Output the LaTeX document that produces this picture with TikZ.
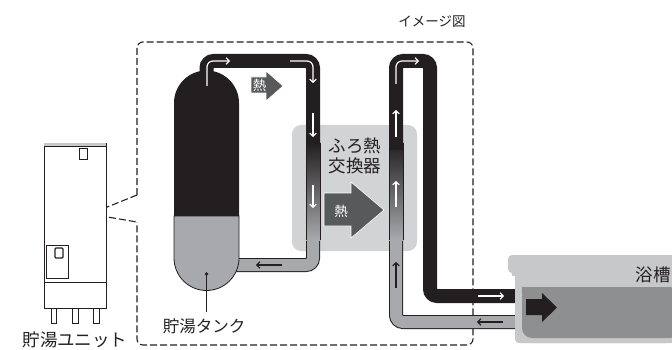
\documentclass[tikz,border=0pt]{standalone}
\usepackage{fontspec}
\newfontfamily\jp{Noto Sans CJK JP}
\usetikzlibrary{arrows.meta}
\definecolor{pipeblack}{HTML}{231F20}
\definecolor{pipegray}{HTML}{A7A9AC}
\definecolor{boxgray}{HTML}{D1D3D4}
\definecolor{heatgray}{HTML}{58595B}
\definecolor{tubgray}{HTML}{C7C8CA}
\definecolor{watergray}{HTML}{8E8F91}
\definecolor{txt}{HTML}{231F20}
\tikzset{
  blackpipe/.style={line width=14pt, color=pipeblack, rounded corners=7pt},
  graypipeout/.style={line width=14pt, color=pipeblack, rounded corners=7pt},
  graypipein/.style={line width=12pt, color=pipegray, rounded corners=7pt},
  warr/.style={white, line width=1.2pt, -{Straight Barb[length=3pt,width=6.5pt]}},
  barr/.style={pipeblack, line width=1.2pt, -{Straight Barb[length=3pt,width=6.5pt]}},
  frameline/.style={pipeblack, line width=1.1pt, dash pattern=on 7pt off 3pt},
  thin/.style={pipeblack, line width=0.8pt},
  lbl/.style={font=\jp\fontsize{16.5}{16.5}\selectfont, text=txt, inner sep=0pt},
  heatlbl/.style={font=\jp\fontsize{13.5}{13.5}\selectfont, text=white, inner sep=0pt},
  heatarrow/.style={fill=heatgray, draw=white, line width=0.6pt}
}
\begin{document}
\begin{tikzpicture}[x=1pt,y=-1pt]
\useasboundingbox (0,0) rectangle (672,350);

% caption
\node[lbl, font=\jp\fontsize{13.5}{13.5}\selectfont] (cap) at (432,22) {イメージ図};

% dashed callout frame
\draw[frameline, rounded corners=6pt] (137,195) -- (137,42) -- (473,42) -- (473,345) -- (137,345) -- (137,222);
\draw[frameline] (137,195) -- (90,214) -- (137,222);

% storage unit
\draw[thin, fill=white] (44,143) rectangle (106,308);
\fill[tubgray] (44,143) rectangle (106,146);
\draw[thin] (44,146) -- (106,146);
\draw[thin] (79,148) rectangle (87,159);
\draw[thin] (46,245) rectangle (68,278);
\draw[pipeblack, line width=1.3pt, rounded corners=1pt] (55,248) rectangle (63,258);
\draw[thin] (44,282) -- (106,282);
\draw[thin, fill=white] (51,308) rectangle (56,323);
\draw[thin, fill=white] (72,308) rectangle (78,323);
\draw[thin, fill=white] (93,308) rectangle (99,323);
\node[lbl, font=\jp\fontsize{17.5}{17.5}\selectfont] (unit) at (75,340) {貯湯ユニット};

% heat exchanger housing
\fill[boxgray, rounded corners=9pt] (292,125) rectangle (417,251);
\node[lbl, font=\jp\fontsize{17.5}{17.5}\selectfont, align=center] (hx) at (355,156) {ふろ熱\\[3pt]交換器};

% tank loop
\draw[blackpipe] (206.5,85) -- (206.5,61) -- (313,61) -- (313,150);
\draw[graypipeout] (313,238) -- (313,265) -- (230,265);
\draw[graypipein] (313,238) -- (313,265) -- (230,265);
\shade[top color=pipeblack, bottom color=pipegray] (306,143) rectangle (320,240);
\draw[thin, line width=0.7pt] (306,143) -- (306,240) (320,143) -- (320,240);

% bath loop
\draw[graypipeout] (396,238) -- (396,322) -- (525,322);
\draw[graypipein] (396,238) -- (396,322) -- (525,322);
\shade[top color=pipeblack, bottom color=pipegray] (389,143) rectangle (403,240);
\draw[thin, line width=0.7pt] (389,143) -- (389,240) (403,143) -- (403,240);
\draw[blackpipe] (396,150) -- (396,61) -- (430,61) -- (430,296) -- (525,296);

% storage tank
\fill[pipeblack] (174,216) -- (174,103) arc[start angle=180, end angle=360, radius=32.5] -- (239,216) -- cycle;
\draw[thin, fill=pipegray] (174,216) -- (239,216) -- (239,258) arc[start angle=0, end angle=180, radius=32.5] -- cycle;
\coordinate (tankpt) at (206.5,274);
\fill[pipeblack] (tankpt) circle (1.8);
\node[lbl] (tank) at (204,326) {貯湯タンク};
\draw[thin, line width=0.7pt] (tankpt) -- (206.5,312);

% heat arrows
\draw[heatarrow] (251,77) -- (266,77) -- (266,71) -- (283,86) -- (266,101) -- (266,93) -- (251,93) -- cycle;
\node[heatlbl] (heat1) at (259.5,85) {熱};
\draw[heatarrow] (324,193) -- (351,193) -- (351,182) -- (384,210) -- (351,238) -- (351,226) -- (324,226) -- cycle;
\node[heatlbl] (heat2) at (341,211) {熱};

% bathtub
\fill[tubgray, rounded corners=4pt] (508,273) -- (508,255) -- (680,255) -- (680,343) -- (515,343) -- (515,273) -- cycle;
\fill[tubgray] (512,268) rectangle (520,276);
\fill[tubgray, rounded corners=14pt] (515,270) -- (515,343) -- (680,343) -- (680,270) -- cycle;
\fill[watergray, rounded corners=10pt] (522,287) -- (522,338) -- (680,338) -- (680,287) -- cycle;
\fill[watergray] (522,287) rectangle (535,295);
\node[lbl, font=\jp\fontsize{17.5}{17.5}\selectfont] (tub) at (653,275) {浴槽};
\fill[pipeblack] (526,299) -- (542,299) -- (542,293) -- (557,307.5) -- (542,322) -- (542,315) -- (526,315) -- cycle;

% flow direction marks
\draw[warr, rounded corners=6pt] (207,86) -- (207,61) -- (230,61);
\draw[warr, rounded corners=6pt] (290,61) -- (313,61) -- (313,83);
\draw[warr] (313,113) -- (313,137);
\draw[warr] (313,185) -- (313,208);
\draw[barr] (282,265) -- (256,265);
\draw[warr, rounded corners=6pt] (396,84) -- (396,61) -- (419,61);
\draw[warr] (396,137) -- (396,110);
\draw[warr] (396,207) -- (396,181);
\draw[barr] (396,288) -- (396,262);
\draw[warr] (478,296) -- (504,296);
\draw[barr] (503,322) -- (477,322);
\end{tikzpicture}
\end{document}
